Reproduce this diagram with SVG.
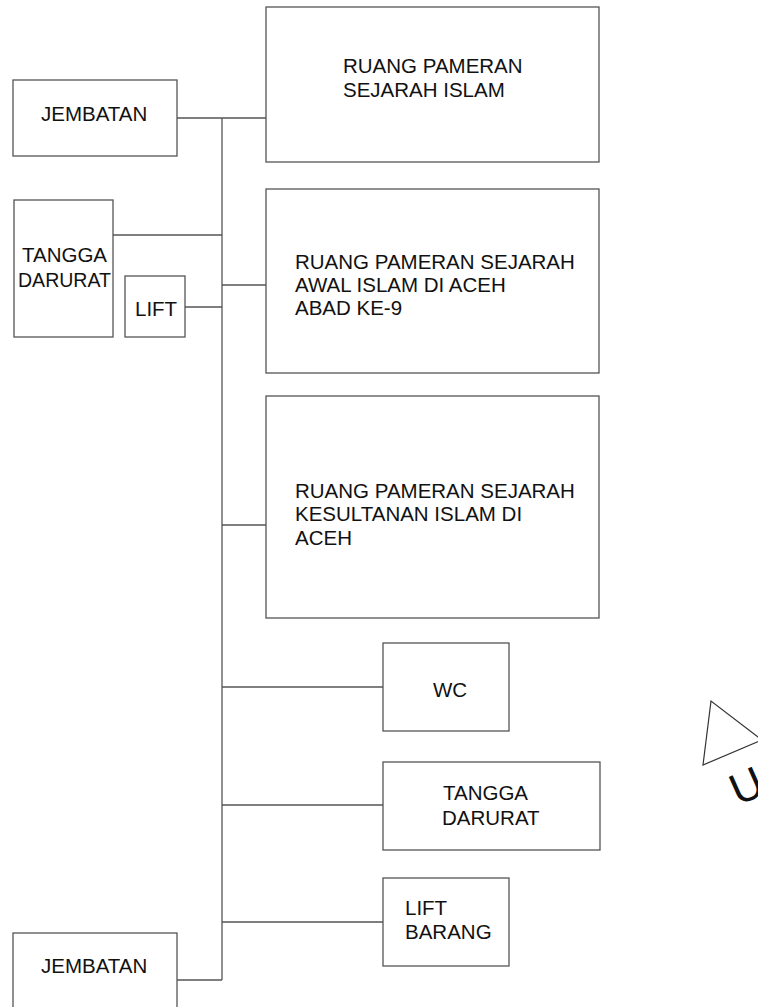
<svg xmlns="http://www.w3.org/2000/svg" width="758" height="1007" viewBox="0 0 758 1007">
<style>
  .box{fill:#fff;stroke:#555;stroke-width:1.3}
  .ln{fill:none;stroke:#555;stroke-width:1.3}
  text{font-family:"Liberation Sans",Arial,sans-serif;font-size:20.5px;fill:#111}
</style>
<rect width="758" height="1007" fill="#fff"/>
<g id="connectors">
  <path class="ln" d="M222,118 V980"/>
  <path class="ln" d="M177,118 H266"/>
  <path class="ln" d="M113,235 H222"/>
  <path class="ln" d="M222,285 H266"/>
  <path class="ln" d="M185,307 H222"/>
  <path class="ln" d="M222,525 H266"/>
  <path class="ln" d="M222,687 H383"/>
  <path class="ln" d="M222,805 H383"/>
  <path class="ln" d="M222,922 H383"/>
  <path class="ln" d="M177,980 H222"/>
</g>
<g id="jembatan-top">
  <rect class="box" x="13" y="80" width="164" height="76"/>
  <text x="41" y="121">JEMBATAN</text>
</g>
<g id="tangga-darurat-left">
  <rect class="box" x="14" y="200" width="99" height="137"/>
  <text x="22" y="262">TANGGA</text>
  <text x="18" y="287" textLength="93" lengthAdjust="spacingAndGlyphs">DARURAT</text>
</g>
<g id="lift">
  <rect class="box" x="125" y="276" width="60" height="61"/>
  <text x="135" y="316">LIFT</text>
</g>
<g id="ruang-sejarah-islam">
  <rect class="box" x="266" y="7" width="333" height="155"/>
  <text x="343" y="73">RUANG PAMERAN</text>
  <text x="343" y="97">SEJARAH ISLAM</text>
</g>
<g id="ruang-awal-islam">
  <rect class="box" x="266" y="189" width="333" height="184"/>
  <text x="295" y="269">RUANG PAMERAN SEJARAH</text>
  <text x="295" y="292">AWAL ISLAM DI ACEH</text>
  <text x="295" y="315">ABAD KE-9</text>
</g>
<g id="ruang-kesultanan">
  <rect class="box" x="266" y="396" width="333" height="222"/>
  <text x="295" y="498">RUANG PAMERAN SEJARAH</text>
  <text x="295" y="521">KESULTANAN ISLAM DI</text>
  <text x="295" y="545">ACEH</text>
</g>
<g id="wc">
  <rect class="box" x="383" y="643" width="126" height="88"/>
  <text x="433" y="697">WC</text>
</g>
<g id="tangga-darurat-right">
  <rect class="box" x="383" y="762" width="217" height="88"/>
  <text x="443" y="800">TANGGA</text>
  <text x="442" y="825">DARURAT</text>
</g>
<g id="lift-barang">
  <rect class="box" x="383" y="878" width="126" height="88"/>
  <text x="405" y="915">LIFT</text>
  <text x="405" y="939">BARANG</text>
</g>
<g id="jembatan-bottom">
  <rect class="box" x="13" y="933" width="164" height="80"/>
  <text x="41" y="973">JEMBATAN</text>
</g>
<g id="north">
  <polygon points="711,701 703,765 762,740" fill="none" stroke="#333" stroke-width="1.2"/>
  <text transform="translate(738,806) rotate(-24)" style="font-size:44px">U</text>
</g>
</svg>
